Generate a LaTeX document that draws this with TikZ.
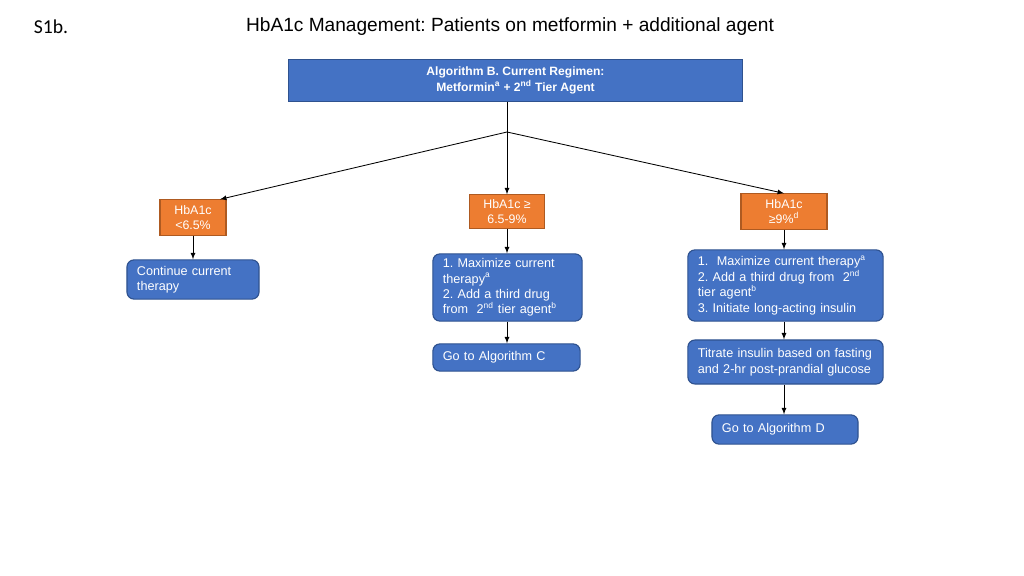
\documentclass[tikz,border=0pt]{standalone}
\usepackage{fontspec}
\setmainfont{Liberation Sans}
\newfontfamily\labelfont{Carlito}
\usetikzlibrary{calc}
\definecolor{boxblue}{RGB}{68,114,196}
\definecolor{edgeblue}{RGB}{47,82,143}
\definecolor{boxorange}{RGB}{237,125,49}
\definecolor{edgeorange}{RGB}{174,90,33}
\frenchspacing

\begin{document}
\begin{tikzpicture}[x=0.025cm, y=-0.025cm,
    stepbox/.style={draw=edgeblue, fill=boxblue, text=white, rounded corners=5pt, align=left, inner xsep=0.25cm, inner ysep=2pt, line width=0.8pt, font=\fontsize{9}{11}\selectfont},
    levelbox/.style={draw=edgeorange, fill=boxorange, text=white, align=center, inner sep=1pt, line width=0.8pt, font=\fontsize{8.8}{10.9}\selectfont},
    link/.style={->, >=latex, line width=0.6pt}]
    \useasboundingbox (0,0) rectangle (1024,576);

    % Title
    \node[font=\labelfont\fontsize{14}{16}\selectfont] (tag) at (51,27) {S1b.};
    \node[font=\fontsize{13.6}{15}\selectfont] (title) at (510,27) {HbA1c Management: Patients on metformin + additional agent};

    % Current regimen
    \node[draw=edgeblue, fill=boxblue, text=white, line width=0.8pt, minimum width=11.33cm, minimum height=1.03cm, align=center, font=\bfseries\fontsize{8.6}{11.2}\selectfont] (regimen) at (515.5,80.5) {
        Algorithm B. Current Regimen:\\
        Metformin\textsuperscript{a} + 2\textsuperscript{nd} Tier Agent
    };
    \coordinate (split) at (507,132);

    % HbA1c levels
    \node[levelbox, minimum width=1.65cm, minimum height=0.88cm] (low) at (193,217.5) {HbA1c\\<6.5\%};
    \node[levelbox, minimum width=1.88cm, minimum height=0.83cm] (mid) at (507,211.5) {HbA1c ≥\\6.5-9\%};
    \node[levelbox, minimum width=2.15cm, minimum height=0.88cm] (high) at (784,211.5) {HbA1c\\≥9\%\textsuperscript{d}};

    % Steps
    \node[stepbox, text width=2.8cm, minimum height=0.98cm] (keep) at (193,279.5) {Continue current\\therapy};
    \node[stepbox, text width=3.23cm, minimum height=1.68cm] (midstep) at (507.5,287.5) {
        1. Maximize current\\therapy\textsuperscript{a}\\2. Add a third drug\\from~~2\textsuperscript{nd} tier agent\textsuperscript{b}};
    \node[stepbox, text width=3.18cm, minimum height=0.68cm] (algoC) at (506.5,357.5) {Go to Algorithm C};
    \node[stepbox, text width=4.38cm, minimum height=1.78cm] (highstep) at (785.5,285.5) {
        1.~~Maximize current therapy\textsuperscript{a}\\2. Add a third drug from~~2\textsuperscript{nd}\\tier agent\textsuperscript{b}\\3. Initiate long-acting insulin};
    \node[stepbox, text width=4.38cm, minimum height=1.1cm] (titrate) at (785.5,362) {
        Titrate insulin based on fasting\\and 2-hr post-prandial glucose};
    \node[stepbox, text width=3.15cm, minimum height=0.73cm] (algoD) at (785,429.5) {Go to Algorithm D};

    % Connectors
    \draw[line width=0.6pt] (split |- regimen.south) -- (split);
    \draw[link] (split) -- ($(low.north)+(27,0)$);
    \draw[link] (split) -- (mid.north);
    \draw[link] (split) -- (high.north);
    \draw[link] (low) -- (keep);
    \draw[link] (mid.south) -- (midstep.north -| mid.south);
    \draw[link] (midstep.south -| mid.south) -- (algoC.north -| mid.south);
    \draw[link] (high.south) -- (highstep.north -| high.south);
    \draw[link] (highstep.south -| high.south) -- (titrate.north -| high.south);
    \draw[link] (titrate.south -| high.south) -- (algoD.north -| high.south);
\end{tikzpicture}
\end{document}
